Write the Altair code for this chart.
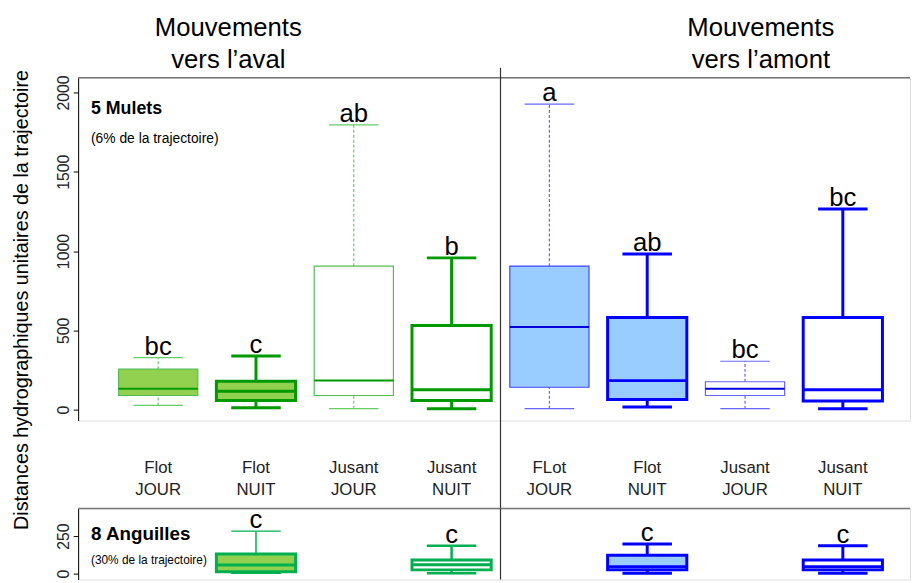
import altair as alt
import pandas as pd

# ---------------- data ----------------
positions = [1, 2, 3, 4, 5, 6, 7, 8]
label_line1 = ["Flot", "Flot", "Jusant", "Jusant", "FLot", "Flot", "Jusant", "Jusant"]
label_line2 = ["JOUR", "NUIT", "JOUR", "NUIT", "JOUR", "NUIT", "JOUR", "NUIT"]

# 5 Mulets (top panel)
mulets_wlo = [27, 12, 6, 6, 6, 17, 6, 6]
mulets_q1 = [89, 58, 89, 58, 141, 64, 89, 54]
mulets_med = [131, 116, 183, 126, 521, 183, 131, 126]
mulets_q3 = [255, 179, 905, 531, 905, 581, 176, 581]
mulets_whi = [328, 338, 1796, 957, 1927, 982, 305, 1265]
mulets_letters = ["bc", "c", "ab", "b", "a", "ab", "bc", "bc"]

# 8 Anguilles (bottom panel)
ang_positions = [2, 4, 6, 8]
ang_wlo = [2, 2, 2, 2]
ang_q1 = [13, 25, 25, 25]
ang_med = [57, 59, 46, 46]
ang_q3 = [130, 91, 123, 91]
ang_whi = [283, 185, 197, 185]
ang_letters = ["c", "c", "c", "c"]

y_ticks_top = [0, 500, 1000, 1500, 2000]
y_ticks_bottom = [0, 250]

# ---------------- styles ----------------
LG, LB, WH = "#92D050", "#99CCFF", "#FFFFFF"
top_fill = [LG, LG, WH, WH, LB, LB, WH, WH]
top_stroke = ["#55BB55", "#009900", "#55BB55", "#009900", "#4444FF", "#0000FF", "#6666FF", "#0000FF"]
top_sw = [1.2, 3, 1.2, 3, 1.2, 3, 1.2, 3]
top_medc = ["#009900", "#009900", "#009900", "#009900", "#0000DD", "#0000FF", "#0000DD", "#0000FF"]
top_medsw = [2, 3, 2, 3, 2, 3, 2, 3]
top_whc = ["#66CC66", "#009900", "#66CC66", "#009900", "#6666FF", "#0000FF", "#6666FF", "#0000FF"]
top_whsw = [1.2, 3, 1.2, 3, 1.2, 3, 1.2, 3]
top_dashed = [True, False, True, False, True, False, True, False]

bot_fill = [LG, WH, LB, WH]
bot_stroke = ["#00B050", "#00B050", "#0000FF", "#0000FF"]
bot_sw = [3, 3, 3, 3]
bot_medc = ["#00B050", "#00B050", "#0000FF", "#0000FF"]
bot_medsw = [3, 3, 3, 3]
bot_whc = ["#00B050", "#00B050", "#0000FF", "#0000FF"]
bot_whsw = [1.5, 2.5, 3, 3]
bot_dashed = [False, False, False, False]

FONT = "Liberation Sans"
W = 842
H_TOP = 347
H_BOT = 72
GAP = 89
BOX_HALF = 0.405
CAP_HALF = 0.253

x_scale = alt.Scale(domain=[0.1818, 8.687], nice=False, zero=False)


def make_df(pos, wlo, q1, med, q3, whi, letters, fill, stroke, sw, medc, medsw, whc, whsw, dashed):
    df = pd.DataFrame(dict(pos=pos, wlo=wlo, q1=q1, med=med, q3=q3, whi=whi, letter=letters,
                           fill=fill, stroke=stroke, sw=sw, medc=medc, medsw=medsw,
                           whc=whc, whsw=whsw, dashed=dashed))
    return df


def panel(df, y_domain, y_vals, height, show_xaxis, name_lines, divider_top, divider_bottom):
    y_scale = alt.Scale(domain=y_domain, nice=False, zero=False)
    y_axis = alt.Axis(values=y_vals, format="d", labelAngle=270, labelAlign="center",
                      labelBaseline="bottom", tickSize=5, grid=False, title=None,
                      labelFontSize=16, labelPadding=2, domainColor="black",
                      tickColor="black", labelColor="#222")
    if show_xaxis:
        x_axis = alt.Axis(values=positions, labels=False, tickSize=5, grid=False, title=None,
                          domainColor="black", tickColor="black")
    else:
        x_axis = None

    def X(f):
        return alt.X(f, type="quantitative", scale=x_scale, axis=x_axis)

    def Y(f):
        return alt.Y(f, type="quantitative", scale=y_scale, axis=y_axis)

    base = alt.Chart(df).transform_calculate(
        bl=f"datum.pos - {BOX_HALF}", br=f"datum.pos + {BOX_HALF}",
        cl=f"datum.pos - {CAP_HALF}", cr=f"datum.pos + {CAP_HALF}")

    layers = []
    for dash_flag in (False, True):
        filt = "datum.dashed" if dash_flag else "!datum.dashed"
        mk = dict(strokeDash=[3, 2]) if dash_flag else {}
        b = base.transform_filter(filt)
        layers.append(b.mark_rule(**mk).encode(
            x=X("pos"), y=Y("q3"), y2="whi:Q",
            stroke=alt.Stroke("whc:N", scale=None),
            strokeWidth=alt.StrokeWidth("whsw:Q", scale=None)))
        layers.append(b.mark_rule(**mk).encode(
            x=X("pos"), y=Y("wlo"), y2="q1:Q",
            stroke=alt.Stroke("whc:N", scale=None),
            strokeWidth=alt.StrokeWidth("whsw:Q", scale=None)))
    for f in ("whi", "wlo"):
        layers.append(base.mark_rule().encode(
            x=X("cl:Q"), x2="cr:Q", y=Y(f),
            stroke=alt.Stroke("whc:N", scale=None),
            strokeWidth=alt.StrokeWidth("whsw:Q", scale=None)))
    layers.append(base.mark_rect().encode(
        x=X("bl:Q"), x2="br:Q", y=Y("q1"), y2="q3:Q",
        fill=alt.Fill("fill:N", scale=None),
        stroke=alt.Stroke("stroke:N", scale=None),
        strokeWidth=alt.StrokeWidth("sw:Q", scale=None)))
    layers.append(base.mark_rule().encode(
        x=X("bl:Q"), x2="br:Q", y=Y("med"),
        stroke=alt.Stroke("medc:N", scale=None),
        strokeWidth=alt.StrokeWidth("medsw:Q", scale=None)))
    layers.append(base.mark_text(baseline="alphabetic", dy=-3, fontSize=26, font=FONT,
                                 color="black").encode(
        x=X("pos"), y=Y("whi"), text="letter:N"))

    one = alt.Chart(pd.DataFrame({"k": [0]}))
    # frame: top line
    layers.append(one.mark_rule(color="#777777", strokeWidth=1.5).encode(
        x=alt.value(0), x2=alt.value(W), y=alt.value(0)))
    # divider between aval / amont
    layers.append(one.mark_rule(color="#333333", strokeWidth=1.2).encode(
        x=alt.X(datum=4.5, type="quantitative", scale=x_scale, axis=x_axis),
        y=alt.value(divider_top), y2=alt.value(divider_bottom)))
    # panel name
    (n1, s1, y1), (n2, s2, y2) = name_lines
    layers.append(one.mark_text(align="left", baseline="middle", fontSize=s1, fontWeight="bold",
                                font=FONT, color="black").encode(
        x=alt.value(13), y=alt.value(y1), text=alt.value(n1)))
    layers.append(one.mark_text(align="left", baseline="middle", fontSize=s2,
                                font=FONT, color="black").encode(
        x=alt.value(13), y=alt.value(y2), text=alt.value(n2)))
    return layers


top_df = make_df(positions, mulets_wlo, mulets_q1, mulets_med, mulets_q3, mulets_whi, mulets_letters,
                 top_fill, top_stroke, top_sw, top_medc, top_medsw, top_whc, top_whsw, top_dashed)
bot_df = make_df(ang_positions, ang_wlo, ang_q1, ang_med, ang_q3, ang_whi, ang_letters,
                 bot_fill, bot_stroke, bot_sw, bot_medc, bot_medsw, bot_whc, bot_whsw, bot_dashed)

top_layers = panel(top_df, [-68.5, 2093.5], y_ticks_top, H_TOP, True,
                   [("5 Mulets", 18, 32), ("(6% de la trajectoire)", 14, 62)], -10, H_TOP + GAP)

# category labels under the top panel
cat_df = pd.DataFrame({"pos": positions, "l1": label_line1, "l2": label_line2})
cat = alt.Chart(cat_df)
top_layers.append(cat.mark_text(fontSize=17, font=FONT, color="#222", baseline="middle").encode(
    x=alt.X("pos:Q", scale=x_scale, axis=None), y=alt.value(H_TOP + 48), text="l1:N"))
top_layers.append(cat.mark_text(fontSize=17, font=FONT, color="#222", baseline="middle").encode(
    x=alt.X("pos:Q", scale=x_scale, axis=None), y=alt.value(H_TOP + 70), text="l2:N"))

# group titles and y title
one = alt.Chart(pd.DataFrame({"k": [0]}))
titles = [("Mouvements", 152, -50), ("vers l\u2019aval", 152, -18),
          ("Mouvements", 691, -50), ("vers l\u2019amont", 691, -18)]
for t, xx, yy in titles:
    top_layers.append(one.mark_text(fontSize=26, font=FONT, color="black", baseline="middle").encode(
        x=alt.value(xx), y=alt.value(yy), text=alt.value(t)))
top_layers.append(one.mark_text(fontSize=20, font=FONT, color="black", angle=270,
                                baseline="middle").encode(
    x=alt.value(-57), y=alt.value(225),
    text=alt.value("Distances hydrographiques unitaires de la trajectoire")))

top = alt.layer(*top_layers).properties(width=W, height=H_TOP)

bot_layers = panel(bot_df, [-39.5, 434.2], y_ticks_bottom, H_BOT, False,
                   [("8 Anguilles", 19, 26), ("(30% de la trajectoire)", 12, 52)], 0, H_BOT)
bottom = alt.layer(*bot_layers).properties(width=W, height=H_BOT)

chart = alt.vconcat(top, bottom, spacing=GAP, bounds="flush").properties(
    padding={"left": 3, "top": 3, "right": 0, "bottom": 0}
).configure_view(stroke=None).configure(font=FONT).configure_axis(labelFontSize=16)

chart.save("out.html", embed_options={"renderer": "svg", "actions": False})
